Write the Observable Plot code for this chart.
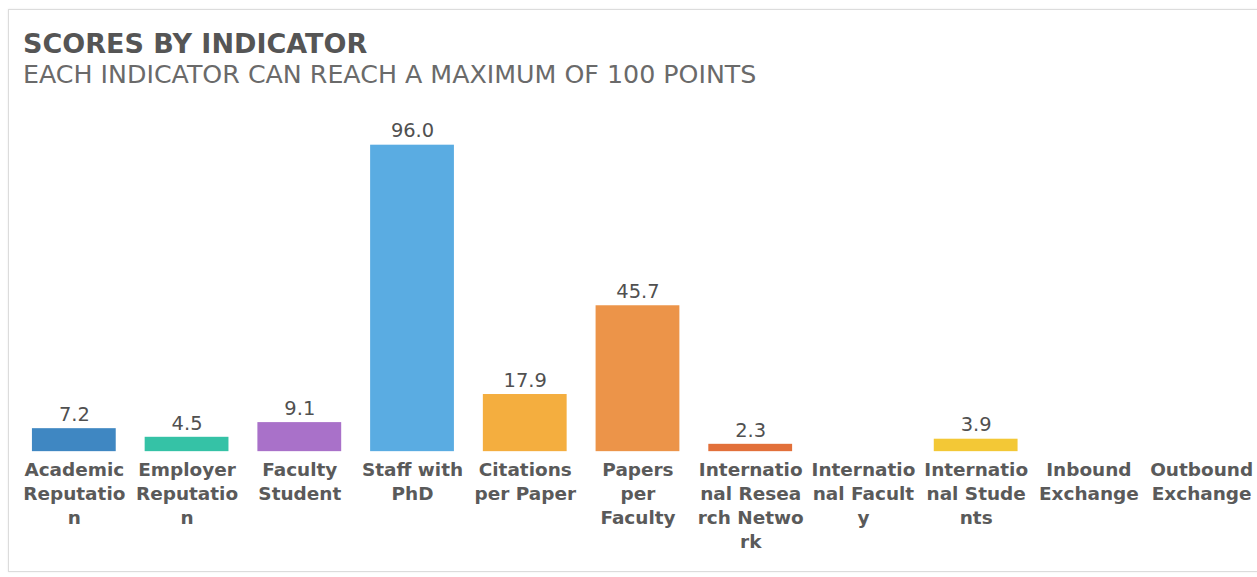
<!DOCTYPE html>
<html>
<head>
<meta charset="utf-8">
<script src="https://cdn.jsdelivr.net/npm/d3@7"></script>
<script src="https://cdn.jsdelivr.net/npm/@observablehq/plot@0.6"></script>
<style>
  html, body { margin: 0; padding: 0; background: #fff; }
  body { width: 1257px; height: 577px; position: relative; overflow: hidden; font-family: "DejaVu Sans", sans-serif; }
  #card { position: absolute; left: 8px; top: 9px; width: 1270px; height: 563px; border: 1px solid #dcdcdc; box-shadow: 0 0 2px rgba(0,0,0,0.08); box-sizing: border-box; }
  #title { position: absolute; left: 23px; top: 30px; font-size: 27px; line-height: 28px; font-weight: bold; color: #555; white-space: nowrap; }
  #subtitle { position: absolute; left: 23px; top: 61px; font-size: 25.3px; line-height: 27px; color: #6a6a6a; white-space: nowrap; }
  #chart { position: absolute; left: 0; top: 100px; }
</style>
</head>
<body>
<div id="card"></div>
<div id="title">SCORES BY INDICATOR</div>
<div id="subtitle">EACH INDICATOR CAN REACH A MAXIMUM OF 100 POINTS</div>
<div id="chart"></div>
<script>
const categories = [
  "Academic Reputation", "Employer Reputation", "Faculty Student", "Staff with PhD",
  "Citations per Paper", "Papers per Faculty", "International Research Network",
  "International Faculty", "International Students", "Inbound Exchange", "Outbound Exchange"
];
const tickLabels = [
  "Academic\nReputatio\nn", "Employer\nReputatio\nn", "Faculty\nStudent", "Staff with\nPhD",
  "Citations\nper Paper", "Papers\nper\nFaculty", "Internatio\nnal Resea\nrch Netwo\nrk",
  "Internatio\nnal Facult\ny", "Internatio\nnal Stude\nnts", "Inbound\nExchange", "Outbound\nExchange"
];
const scores = [7.2, 4.5, 9.1, 96.0, 17.9, 45.7, 2.3, null, 3.9, null, null];
const colors = ["#3f87c2", "#35c2a6", "#a971c9", "#5aace2", "#f4ae3f", "#ec9449", "#e2703a", "#cccccc", "#f3c836", "#cccccc", "#cccccc"];

const data = categories.map((c, i) => ({category: c, score: scores[i], color: colors[i]}))
  .filter(d => d.score != null);
const labelOf = new Map(categories.map((c, i) => [c, tickLabels[i]]));

const chart = Plot.plot({
  width: 1260,
  height: 470,
  marginTop: 32,
  marginBottom: 118,
  marginLeft: 17,
  marginRight: 0,
  style: {fontFamily: "DejaVu Sans, sans-serif", background: "transparent", overflow: "visible"},
  x: {domain: categories, paddingInner: 0.257, paddingOuter: 0.1285, align: 0.5, axis: null},
  y: {domain: [0, 100], axis: null},
  marks: [
    Plot.barY(data, {x: "category", y: "score", fill: "color"}),
    Plot.text(data, {x: "category", y: "score", text: d => d.score.toFixed(1), dy: -14, lineAnchor: "middle", fontSize: 19.5, fill: "#505050"}),
    Plot.axisX({domain: categories, label: null, tickSize: 0, tickPadding: 7, tickFormat: d => labelOf.get(d), fontSize: 18.5, fontWeight: "bold", fill: "#5a5a5a", lineHeight: 1.3})
  ]
});
document.getElementById("chart").appendChild(chart);
</script>
</body>
</html>
